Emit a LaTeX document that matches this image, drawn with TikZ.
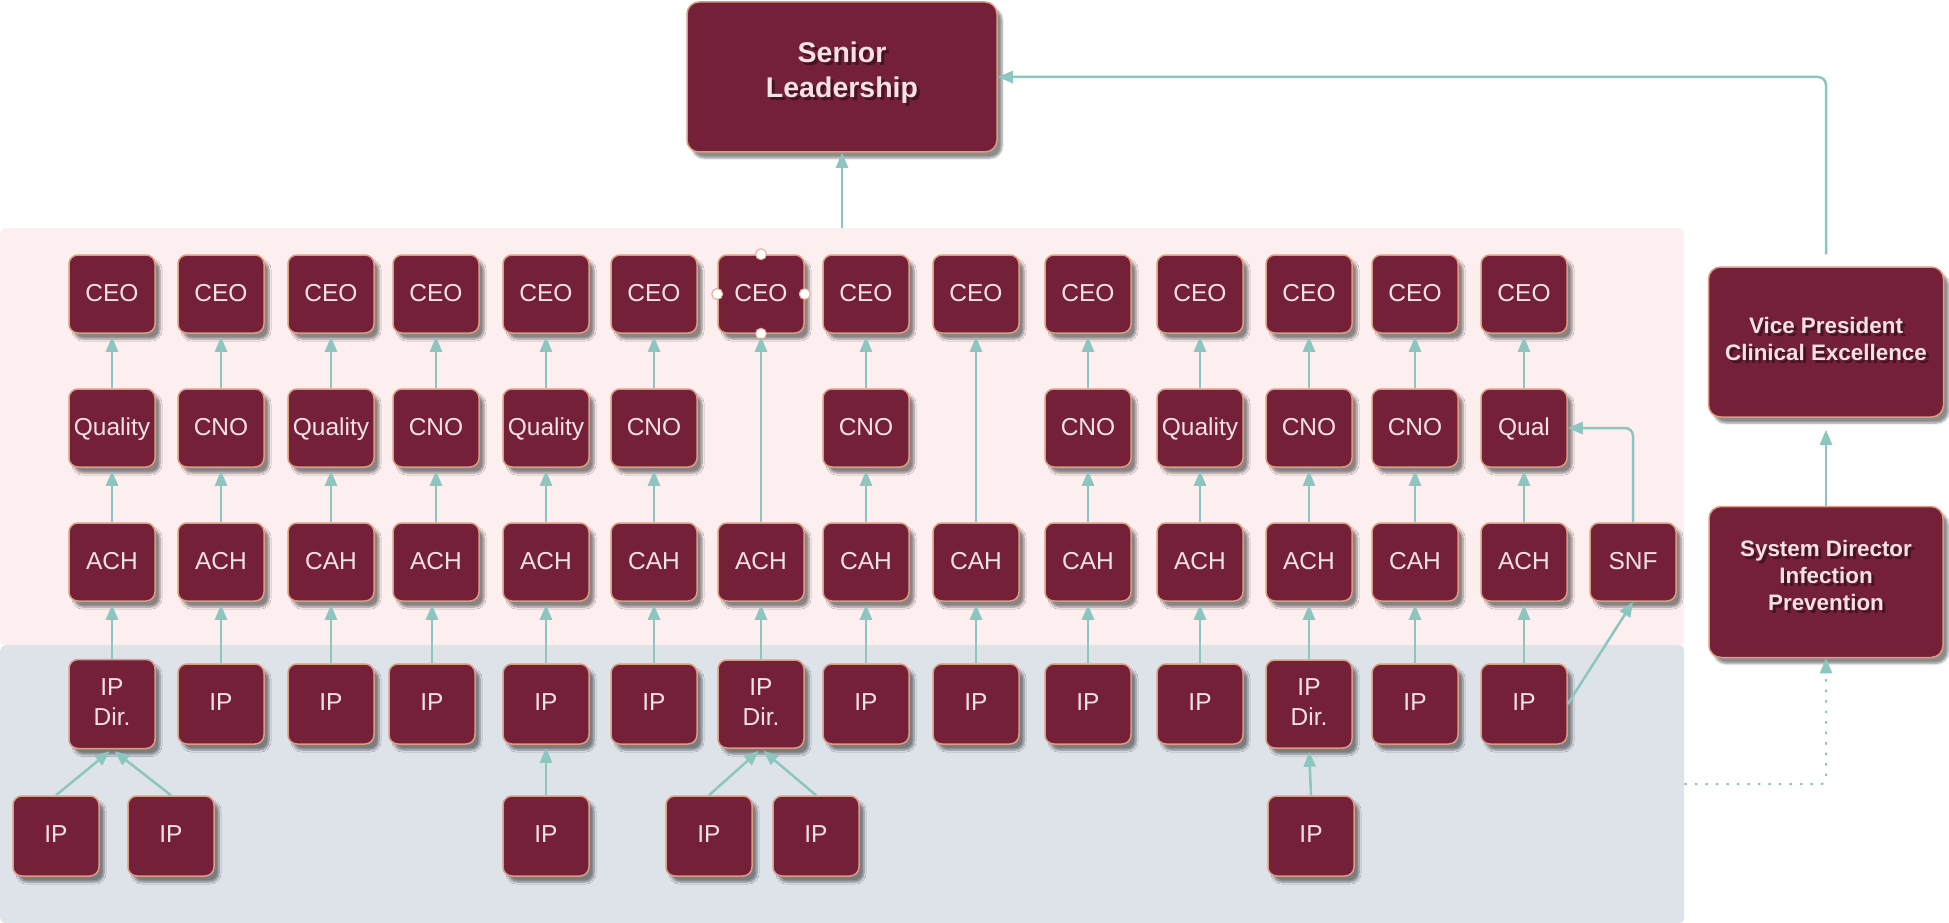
\documentclass[tikz,border=0pt]{standalone}
\usepackage{fontspec}
\setmainfont{Liberation Sans}
\usetikzlibrary{arrows.meta,shadows.blur,calc}
\definecolor{boxfill}{HTML}{732038}
\definecolor{boxline}{HTML}{DB9C80}
\definecolor{boxtext}{HTML}{F6E1E6}
\definecolor{pinkband}{HTML}{FDEFEF}
\definecolor{grayband}{HTML}{DEE3EA}
\definecolor{conn}{HTML}{8CC6BF}
\begin{document}
\begin{tikzpicture}[x=1pt,y=-1pt,
  unit/.style={draw=boxline, line width=1.5pt, fill=boxfill, rounded corners=9pt,
    text=boxtext, font=\fontsize{24.5}{30}\selectfont, minimum width=86pt,
    minimum height=78pt, inner sep=0pt, align=center, text depth=3pt,
    blur shadow={shadow xshift=5pt, shadow yshift=-6pt, shadow blur steps=6, shadow opacity=45}},
  bigbox/.style={unit, rounded corners=12pt},
  bigtxt/.style={text=boxtext, font=\bfseries\fontsize{22.4}{27}\selectfont, align=center, inner sep=0pt},
  shtxt/.style={bigtxt, text=black, opacity=0.4},
  band/.style={draw=none, rounded corners=5pt, inner sep=0pt, anchor=north west},
  arr/.style={draw=conn, line width=2.5pt, -{Triangle[length=15pt,width=12pt]}, shorten >=3pt},
  dotarr/.style={draw=conn, line width=2pt, dash pattern=on 2.5pt off 8pt, -{Triangle[length=15pt,width=12pt]}, rounded corners=6pt},
  handle/.style={circle, fill=white, draw=boxline!70!pink, line width=1pt, minimum size=11pt, inner sep=0pt}
]
\useasboundingbox (0,0) rectangle (1949,923);
% bands
\node[band, fill=pinkband, minimum width=1684pt, minimum height=417pt] (pink) at (0,228) {};
\node[band, fill=grayband, minimum width=1684pt, minimum height=278pt] (gray) at (0,645) {};

% top boxes
\node[bigbox, minimum width=310pt, minimum height=150pt] (sl) at (842,77) {};
\node[shtxt, font=\bfseries\fontsize{28.5}{35}\selectfont] (slsh) at (845,76) {Senior\\Leadership};
\node[bigtxt, font=\bfseries\fontsize{28.5}{35}\selectfont] (sltx) at (842,73) {Senior\\Leadership};

\node[bigbox, minimum width=235pt, minimum height=150pt] (vp) at (1826,342) {};
\node[shtxt] (vpsh) at (1829,342) {Vice President\\Clinical Excellence};
\node[bigtxt] (vptx) at (1826,339) {Vice President\\Clinical Excellence};

\node[bigbox, minimum width=234pt, minimum height=151pt] (sd) at (1826,582) {};
\node[shtxt] (sdsh) at (1829,578) {System Director\\Infection\\Prevention};
\node[bigtxt] (sdtx) at (1826,575) {System Director\\Infection\\Prevention};

% CEO row
\foreach \i/\x in {1/112,2/221,3/331,4/436,5/546,6/654,7/761,8/866,9/976,10/1088,11/1200,12/1309,13/1415,14/1524}
  \node[unit] (ceo\i) at (\x,294) {CEO};
% middle row
\foreach \i/\x/\t in {1/112/Quality,2/221/CNO,3/331/Quality,4/436/CNO,5/546/Quality,6/654/CNO,8/866/CNO,10/1088/CNO,11/1200/Quality,12/1309/CNO,13/1415/CNO,14/1524/Qual}
  \node[unit] (m\i) at (\x,428) {\t};
% hospital row
\foreach \i/\x/\t in {1/112/ACH,2/221/ACH,3/331/CAH,4/436/ACH,5/546/ACH,6/654/CAH,7/761/ACH,8/866/CAH,9/976/CAH,10/1088/CAH,11/1200/ACH,12/1309/ACH,13/1415/CAH,14/1524/ACH}
  \node[unit] (h\i) at (\x,562) {\t};
\node[unit] (snf) at (1633,562) {SNF};
% IP row
\foreach \i/\x/\t/\hh in {1/112/{IP\\Dir.}/89,2/221/IP/80,3/331/IP/80,4/432/IP/80,5/546/IP/80,6/654/IP/80,7/761/{IP\\Dir.}/88,8/866/IP/80,9/976/IP/80,10/1088/IP/80,11/1200/IP/80,12/1309/{IP\\Dir.}/88,13/1415/IP/80,14/1524/IP/80}
  \node[unit, minimum height=\hh pt] (ip\i) at (\x,704) {\t};
% bottom IPs
\foreach \i/\x in {1/56,2/171,3/546,4/709,5/816,6/1311}
  \node[unit, minimum height=80pt] (b\i) at (\x,836) {IP};

% selection handles on CEO 7
\node[handle] (hd1) at (ceo7.north) {};
\node[handle] (hd2) at (ceo7.south) {};
\node[handle] (hd3) at (ceo7.west) {};
\node[handle] (hd4) at (ceo7.east) {};

% connectors
\foreach \i in {1,2,3,4,5,6,8,10,11,12,13,14} {
  \draw[arr] (h\i.north) -- (m\i.south);
  \draw[arr] (m\i.north) -- (ceo\i.south);
}
\foreach \i in {7,9}
  \draw[arr] (h\i.north) -- (ceo\i.south);
\foreach \i in {1,2,3,5,6,7,8,9,10,11,12,13,14}
  \draw[arr] (ip\i.north) -- (h\i.south);
\draw[arr] (ip4.north) -- (ip4.north |- h4.south);
\draw[arr] (b1.north) -- (ip1.south);
\draw[arr] (b2.north) -- (ip1.south);
\draw[arr] (b3.north) -- (ip5.south);
\draw[arr] (b4.north) -- (ip7.south);
\draw[arr] (b5.north) -- (ip7.south);
\draw[arr] (b6.north) -- (ip12.south);
\draw[arr, shorten >=0pt] (ip14.east) -- (snf.south);
\draw[arr, rounded corners=8pt, shorten >=0pt] (snf.north) -- (snf.north |- m14.east) -- (m14.east);
\draw[arr, shorten >=0pt] (sl.south |- pink.north) -- (sl.south);
\draw[arr, rounded corners=8pt, shorten >=0pt] ([yshift=12pt]vp.north) -- (vp.north |- sl.east) -- (sl.east);
\draw[arr, shorten >=12pt] (sd.north) -- (vp.south);
\draw[dotarr] (gray.east) -- (gray.east -| sd.south) -- (sd.south);
\end{tikzpicture}
\end{document}
